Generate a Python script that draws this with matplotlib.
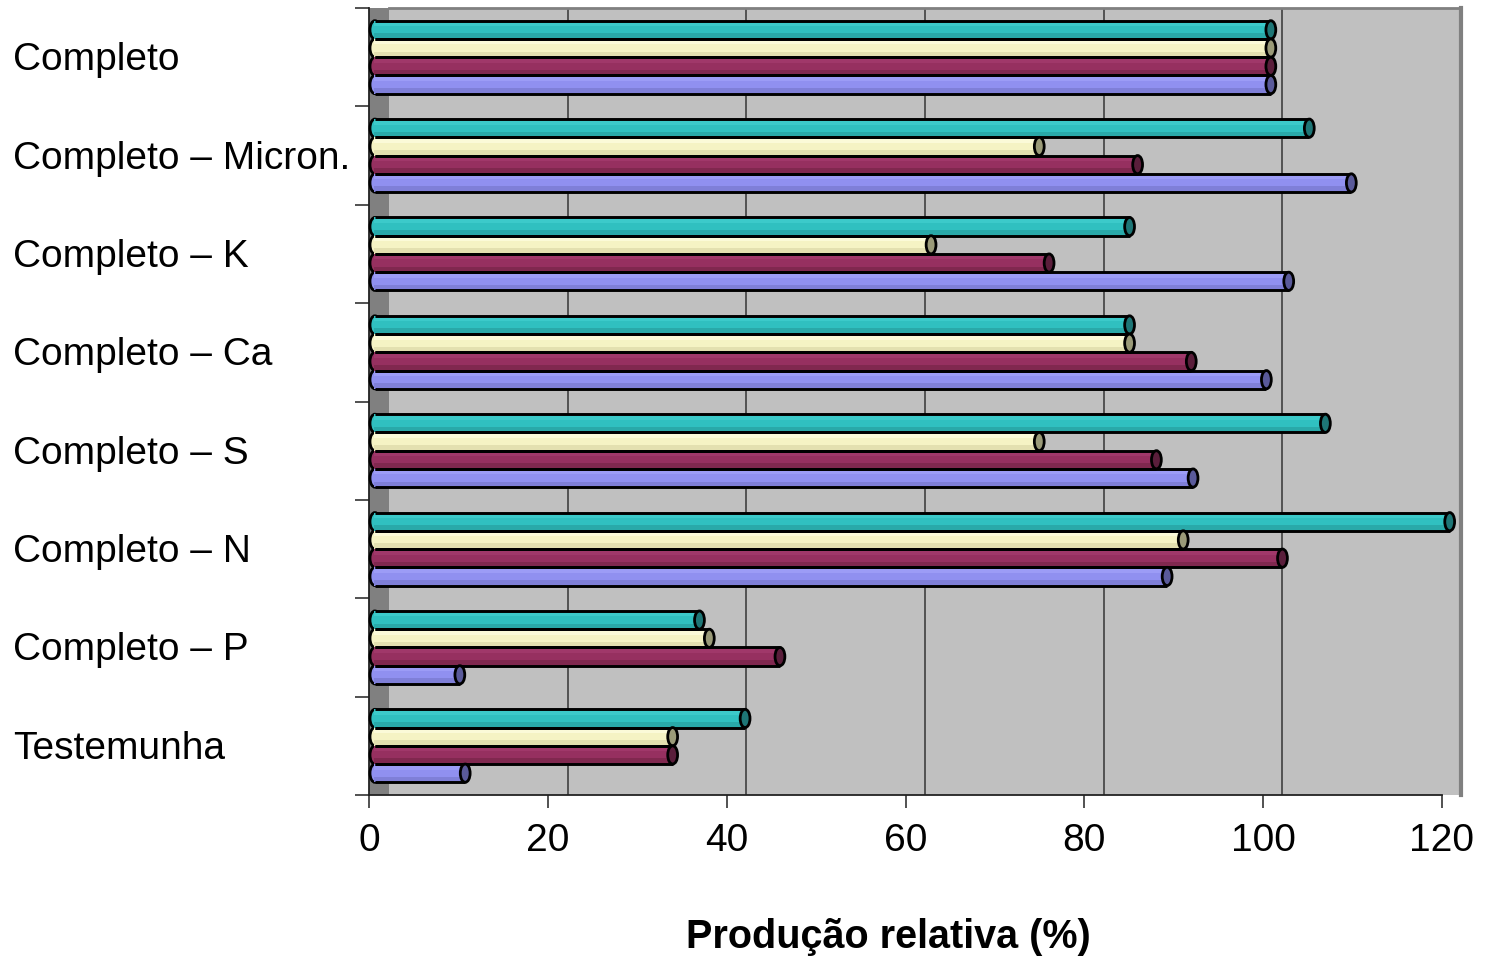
import numpy as np
import matplotlib
matplotlib.use("Agg")
import matplotlib.pyplot as plt
from matplotlib.patches import Ellipse, Rectangle
from matplotlib import transforms

plt.rcParams['font.family'] = ['Liberation Sans', 'DejaVu Sans']

# ---- data (top to bottom) ----
categories = ["Completo", "Completo – Micron.", "Completo – K", "Completo – Ca",
              "Completo – S", "Completo – N", "Completo – P", "Testemunha"]
serie_teal = [100.3, 104.6, 84.5, 84.5, 106.4, 120.3, 36.4, 41.5]
serie_amarela = [100.3, 74.4, 62.3, 84.5, 74.4, 90.5, 37.5, 33.4]
serie_vinho = [100.3, 85.4, 75.5, 91.4, 87.5, 101.6, 45.4, 33.4]
serie_azul = [100.3, 109.3, 102.3, 99.8, 91.6, 88.7, 9.6, 10.2]
xticks = [0, 20, 40, 60, 80, 100, 120]

series = [serie_teal, serie_amarela, serie_vinho, serie_azul]
# face, darker bottom band, lighter top band, end cap
colors = [("#30C0C0", "#29A9A9", "#3CCACA", "#1E7676"),
          ("#F5F3C4", "#E3E0B0", "#FBFAD8", "#9A9A78"),
          ("#963060", "#80284F", "#A0386A", "#5A1E3B"),
          ("#9090F0", "#7F7FD8", "#9C9CF6", "#5A5A9A")]

W, H = 1492, 957
fig = plt.figure(figsize=(W / 100, H / 100), dpi=100)


def px_rect(x0, x1, ytop=8, ybot=795):
    return [x0 / W, (H - ybot) / H, (x1 - x0) / W, (ybot - ytop) / H]


n = len(categories)

# back wall (shifted for the 3D depth)
back = fig.add_axes(px_rect(389, 1461))
back.set_zorder(0)
back.set_facecolor("#C0C0C0")
back.set_xlim(0, 120)
back.set_ylim(n, 0)
back.set_xticks(xticks[1:-1])
back.set_yticks([])
back.tick_params(axis='x', length=0, labelbottom=False)
back.grid(axis='x', color="#4A4A4A", linewidth=1.3)
for s in ['left', 'bottom']:
    back.spines[s].set_visible(False)
back.spines['top'].set_color("#808080")
back.spines['top'].set_linewidth(2)
back.spines['right'].set_color("#808080")
back.spines['right'].set_linewidth(3)

# front axes: axis lines, ticks, side wall
front = fig.add_axes(px_rect(369, 1442))
front.set_zorder(1)
front.set_facecolor("none")
front.set_xlim(0, 120)
front.set_ylim(n, 0)
front.add_patch(Rectangle((0, 0), 20 / 1073, 1, transform=front.transAxes,
                          facecolor="#808080", edgecolor="none", zorder=0))
front.spines['top'].set_visible(False)
front.spines['right'].set_visible(False)
for s in ['left', 'bottom']:
    front.spines[s].set_color("#222222")
    front.spines[s].set_linewidth(1.3)
front.set_xticks(xticks)
front.set_xticklabels([str(t) for t in xticks], fontsize=28)
front.set_yticks(np.arange(n + 1))
front.set_yticklabels([])
front.tick_params(axis='x', direction='out', length=9.5, width=1.2,
                  color="#333333", pad=11)
front.tick_params(axis='y', direction='out', length=10, width=1.2,
                  color="#333333")

lab_tr = transforms.blended_transform_factory(fig.transFigure, front.transData)
for i, c in enumerate(categories):
    fig.text(13 / W, i + 0.53, c, transform=lab_tr, fontsize=28,
             ha='left', va='center')

fig.text(888 / W, 9 / H, "Produção relativa (%)", fontsize=28.5,
         fontweight='bold', ha='center', va='baseline')

# bars plane
bars = fig.add_axes(px_rect(374, 1447))
bars.set_zorder(2)
bars.set_facecolor("none")
bars.set_xlim(0, 120)
bars.set_ylim(n, 0)
bars.axis('off')

h = 0.1855
cap_w = 1.1
centers = np.arange(n) + 0.5
for k, (vals, (face, dark, light, cap)) in enumerate(zip(series, colors)):
    yc = centers + (k - 1.5) * h
    # rounded left end
    for y, v in zip(yc, vals):
        bars.add_patch(Ellipse((0.1, y), cap_w, h, facecolor=face,
                               edgecolor="black", linewidth=2.0, zorder=2,
                               clip_on=False))
    bars.barh(yc, vals, height=h, color=face, edgecolor="none", zorder=3,
              clip_on=False)
    bars.barh(yc + 0.33 * h, vals, height=0.28 * h, color=dark,
              edgecolor="none", zorder=3.1, clip_on=False)
    bars.barh(yc - 0.3 * h, vals, height=0.2 * h, color=light,
              edgecolor="none", zorder=3.1, clip_on=False)
    # outline: top and bottom edges of the cylinder
    bars.hlines(yc - h / 2, 0.1, vals, color="black", linewidth=2.1,
                zorder=3.2, clip_on=False)
    bars.hlines(yc + h / 2, 0.1, vals, color="black", linewidth=2.1,
                zorder=3.2, clip_on=False)
    # end cap
    for y, v in zip(yc, vals):
        bars.add_patch(Ellipse((v, y), cap_w, h, facecolor=cap,
                               edgecolor="black", linewidth=2.0, zorder=4,
                               clip_on=False))

fig.savefig("out.png", dpi=100)
